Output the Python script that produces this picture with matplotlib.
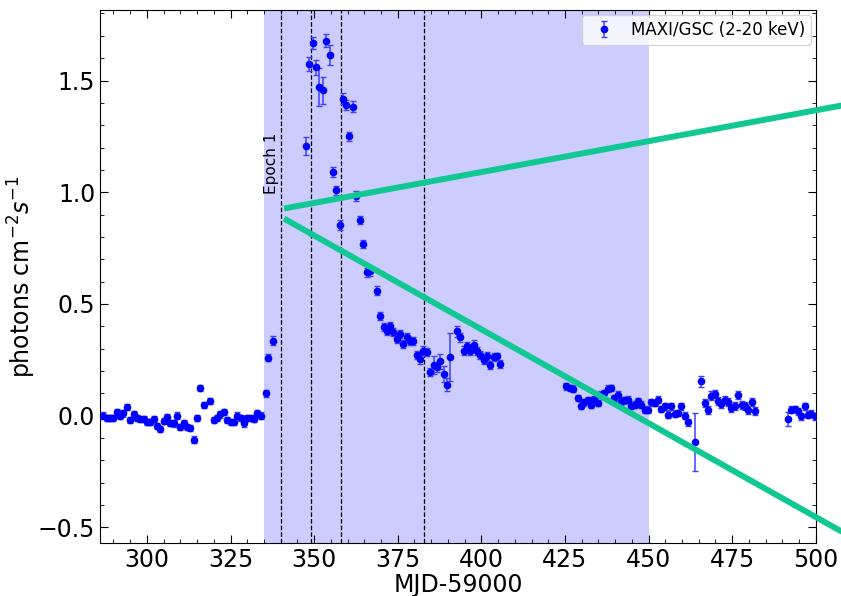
import matplotlib
matplotlib.use("Agg")
import matplotlib.pyplot as plt
import matplotlib.patheffects as pe
from matplotlib.ticker import AutoMinorLocator

# ---- data ----
mjd = [287, 288, 289, 290, 291, 292, 293, 294, 295, 296,
       297, 298, 299, 300, 301, 302, 303, 304, 305, 306,
       307, 308, 309, 310, 311, 312, 313, 314, 315, 316,
       317, 319, 320, 321, 322, 323, 324, 325, 326, 327,
       328, 329, 330, 331, 332, 333, 334, 335.5, 336.2, 337.7,
       347.6, 348.6, 349.6, 350.6, 351.6, 352.6, 353.6, 354.6, 355.6, 356.6,
       357.6, 358.6, 359.6, 360.5, 361.6, 362.6, 363.6, 364.6, 365.8, 366.8,
       368.8, 369.8, 370.8, 371.8, 372.8, 373.7, 374.8, 375.7, 376.7, 377.8,
       378.7, 379.7, 380.7, 381.7, 382.7, 383.7, 384.7, 385.7, 386.7, 387.7,
       388.7, 389.7, 390.7, 392.7, 393.7, 394.7, 395.7, 396.7, 397.7, 398.7,
       399.7, 400.7, 401.7, 402.7, 403.7, 404.7, 405.7,
       425.4, 426.4, 427.4, 428.8, 429.8, 430.8, 431.8, 432.8, 433.8, 434.8,
       435.8, 436.8, 437.8, 438.8, 439.8, 440.8, 441.8, 442.8, 443.8, 444.8,
       445.8, 446.8, 447.8, 448.8, 449.8, 450.8, 451.8, 452.8, 453.8, 454.8,
       455.8, 456.8, 457.8, 458.8, 459.8, 460.8, 461.8, 463.8, 465.8, 466.8,
       467.8, 468.8, 469.8, 470.8, 471.8, 472.8, 473.8, 474.8, 475.8, 476.8,
       477.8, 478.8, 479.8, 480.8, 481.8,
       491.7, 492.7, 493.7, 494.7, 495.7, 496.7, 497.7, 498.7, 499.9]
flux = [0.0, -0.01, -0.01, -0.012, 0.015, 0.0, 0.01, 0.04, -0.02, 0.005,
        -0.01, -0.015, -0.015, -0.03, -0.03, -0.015, -0.048, -0.06, -0.025, -0.006,
        -0.033, -0.035, 0.0, -0.05, -0.035, -0.05, -0.055, -0.107, -0.01, 0.124,
        0.049, 0.064, -0.02, -0.01, 0.005, 0.015, -0.02, -0.03, -0.03, 0.0,
        -0.01, -0.035, -0.01, -0.01, -0.015, 0.01, 0.0, 0.1, 0.26, 0.336,
        1.206, 1.574, 1.668, 1.559, 1.47, 1.456, 1.679, 1.613, 1.091, 1.009,
        0.852, 1.419, 1.392, 1.25, 1.382, 0.982, 0.874, 0.768, 0.641, 0.646,
        0.56, 0.445, 0.395, 0.38, 0.403, 0.375, 0.343, 0.366, 0.321, 0.352,
        0.336, 0.333, 0.27, 0.254, 0.29, 0.284, 0.194, 0.225, 0.216, 0.243,
        0.186, 0.139, 0.261, 0.377, 0.35, 0.291, 0.31, 0.291, 0.318, 0.288,
        0.273, 0.248, 0.266, 0.225, 0.261, 0.266, 0.231,
        0.131, 0.124, 0.12, 0.079, 0.045, 0.06, 0.069, 0.049, 0.075, 0.057,
        0.094, 0.1, 0.12, 0.124, 0.079, 0.094, 0.06, 0.069, 0.072, 0.045,
        0.049, 0.064, 0.049, 0.027, 0.027, 0.06, 0.057, 0.072, 0.03, 0.042,
        0.004, 0.042, 0.008, 0.012, 0.042, 0.0, -0.03, -0.12, 0.154, 0.057,
        0.024, 0.09, 0.098, 0.064, 0.054, 0.069, 0.06, 0.034, 0.045, 0.094,
        0.049, 0.045, 0.024, 0.06, 0.019,
        -0.015, 0.027, 0.03, 0.019, -0.003, 0.042, 0.004, 0.009, -0.003]
flux_err = ([0.014] * 47 + [0.015, 0.015, 0.022] +
            [0.04, 0.03, 0.025, 0.035, 0.085, 0.06, 0.03, 0.045, 0.022, 0.02,
             0.022, 0.025, 0.022, 0.02, 0.025, 0.022, 0.018, 0.018, 0.02, 0.02,
             0.018, 0.018, 0.018, 0.018, 0.018, 0.018, 0.018, 0.018, 0.018, 0.018,
             0.018, 0.018, 0.018, 0.025, 0.02, 0.018, 0.018, 0.04, 0.02, 0.035,
             0.035, 0.03, 0.107, 0.025, 0.022, 0.02, 0.02, 0.02, 0.02, 0.018,
             0.018, 0.018, 0.018, 0.018, 0.018, 0.015, 0.018] +
            [0.015] * 37 + [0.13, 0.025] + [0.018] * 16 +
            [0.03, 0.015, 0.015, 0.015, 0.015, 0.015, 0.015, 0.015, 0.015])

shade_range = [335, 450]
epoch_lines = [340, 349, 358, 383]
epoch_label = "Epoch 1"

# green guide lines (data coordinates, drawn outside the axes)
guide_x = [341, 520]
guide_up_y = [0.927, 1.422]
guide_down_y = [0.882, -0.622]

# ---- plot ----
fig = plt.figure(figsize=(8.41, 5.96), dpi=100)
ax = fig.add_axes([0.119, 0.089, 0.851, 0.894])

ax.axvspan(shade_range[0], shade_range[1], color='blue', alpha=0.2, lw=0, zorder=0)
for xv in epoch_lines:
    ax.axvline(xv, color='black', ls='--', lw=0.9, zorder=1)

ax.errorbar(mjd, flux, yerr=flux_err, fmt='o', color='blue', ms=4.5,
            elinewidth=1.1, capsize=2, capthick=1.0, ecolor=(0.25, 0.25, 1.0),
            label='MAXI/GSC (2-20 keV)', zorder=3)

ax.text(337.3, 0.99, epoch_label, rotation=90, ha='center', va='bottom',
        fontsize=11)

shadow = [pe.SimplePatchShadow(offset=(1, -1.2), alpha=0.35), pe.Normal()]
for gy in (guide_up_y, guide_down_y):
    ax.plot(guide_x, gy, color='#11c893', lw=4.3, solid_capstyle='butt',
            clip_on=False, zorder=5, path_effects=shadow)

ax.set_xlim(286, 500)
ax.set_ylim(-0.57, 1.815)
ax.set_xlabel('MJD-59000', fontsize=17, labelpad=1)
ax.set_ylabel(r'photons cm$^{-2}s^{-1}$', fontsize=17)
ax.yaxis.set_label_coords(-0.087, 0.5)
ax.xaxis.set_minor_locator(AutoMinorLocator(5))
ax.yaxis.set_minor_locator(AutoMinorLocator(5))
ax.tick_params(which='both', direction='in', top=True, right=True)
ax.tick_params(which='major', length=6, labelsize=17)
ax.tick_params(which='minor', length=3)

ax.legend(loc='upper right', fontsize=12, handletextpad=0.6,
          borderaxespad=0.3, borderpad=0.35)

fig.savefig('out.png', dpi=100)
